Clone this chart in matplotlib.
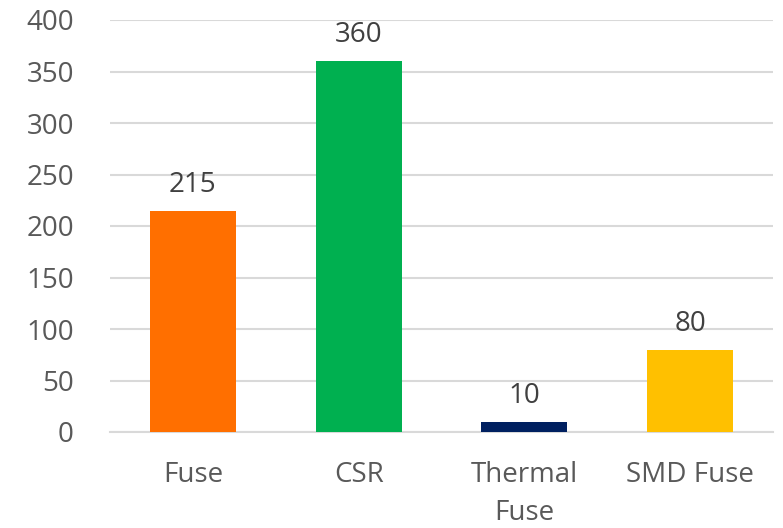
import matplotlib
matplotlib.use("Agg")
import matplotlib.pyplot as plt

# chart data
categories = ["Fuse", "CSR", "Thermal\nFuse", "SMD Fuse"]
values = [215, 360, 10, 80]
bar_colors = ["#FF6F00", "#00B050", "#002060", "#FFC000"]
yticks = [0, 50, 100, 150, 200, 250, 300, 350, 400]

plt.rcParams["font.family"] = ["Open Sans", "DejaVu Sans"]

fig = plt.figure(figsize=(7.83, 5.28), dpi=100)
ax = fig.add_axes([110 / 783, 1 - 432 / 528, 663 / 783, 412 / 528])

x = range(len(categories))
bars = ax.bar(x, values, width=0.52, color=bar_colors, zorder=3)

# value labels above bars
for b, v in zip(bars, values):
    ax.annotate(str(v), (b.get_x() + b.get_width() / 2, v),
                xytext=(0, 13.7), textcoords="offset points",
                ha="center", va="baseline", fontsize=20, color="#404040")

ax.set_xlim(-0.5, len(categories) - 0.5)
ax.set_ylim(0, 400)
ax.set_yticks(yticks)
ax.set_xticks(list(x))
ax.set_xticklabels(categories, linespacing=1.45)

ax.grid(axis="y", color="#D9D9D9", linewidth=1.5, zorder=0)
for s in ["top", "right", "left"]:
    ax.spines[s].set_visible(False)
ax.spines["bottom"].set_color("#D9D9D9")
ax.spines["bottom"].set_linewidth(1.5)

ax.tick_params(axis="y", length=0, pad=26, labelsize=20, labelcolor="#595959")
ax.tick_params(axis="x", length=0, pad=21, labelsize=20, labelcolor="#595959")

fig.savefig("out.png", dpi=100)
